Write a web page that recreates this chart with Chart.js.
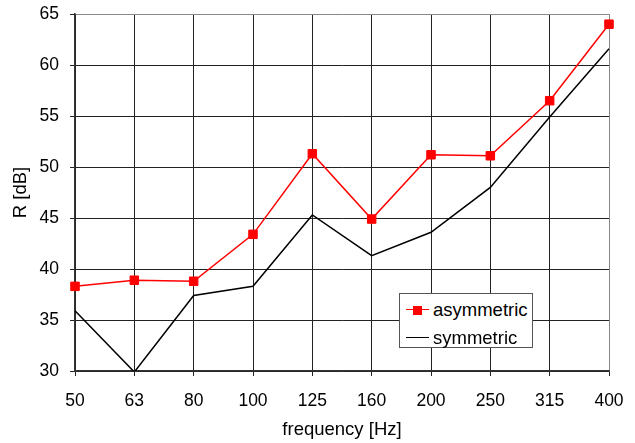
<!DOCTYPE html>
<html>
<head>
<meta charset="utf-8">
<script src="https://cdn.jsdelivr.net/npm/chart.js@4.4.1/dist/chart.umd.min.js"></script>
<style>
  html, body { margin: 0; padding: 0; background: #fff; }
  #wrap { position: relative; width: 635px; height: 443px; }
  #legend {
    position: absolute; left: 399px; top: 293px; width: 132px; height: 53px;
    border: 1px solid #555; background: #fff;
    font-family: "Liberation Sans", Arial, sans-serif; font-size: 18.5px; color: #000;
  }
  .item { position: absolute; left: 0; width: 100%; height: 22px; line-height: 22px; }
  .item .txt { position: absolute; left: 33px; top: 0; white-space: nowrap; }
  .item .ln { position: absolute; left: 6px; top: 10px; width: 23px; height: 0; }
  .item .sq { position: absolute; left: 13px; top: 7px; width: 9px; height: 9px; background: #f00; }
</style>
</head>
<body>
<div id="wrap">
  <canvas id="chart" width="635" height="443"></canvas>
  <div id="legend"></div>
</div>
<script>
const frequencies = ["50", "63", "80", "100", "125", "160", "200", "250", "315", "400"];
const asymmetric = [38.3, 38.9, 38.8, 43.4, 51.3, 44.9, 51.2, 51.1, 56.5, 64.0];
const symmetric = [35.9, 29.9, 37.4, 38.3, 45.3, 41.3, 43.6, 48.0, 54.9, 61.6];
const yTicks = [30, 35, 40, 45, 50, 55, 60, 65];

const tickFont = { family: "Liberation Sans, Arial, sans-serif", size: 17.5 };
const titleFont = { family: "Liberation Sans, Arial, sans-serif", size: 18.5 };

const chart = new Chart(document.getElementById("chart"), {
  type: "line",
  data: {
    labels: frequencies,
    datasets: [
      {
        label: "asymmetric",
        data: asymmetric,
        borderColor: "#ff0000",
        backgroundColor: "#ff0000",
        borderWidth: 1.5,
        pointStyle: "rect",
        pointRadius: 6,
        pointBorderWidth: 1,
        tension: 0,
      },
      {
        label: "symmetric",
        data: symmetric,
        borderColor: "#000000",
        borderWidth: 1.5,
        pointRadius: 0,
        tension: 0,
      },
    ],
  },
  options: {
    responsive: false,
    animation: false,
    layout: { padding: { top: 14, right: 26, left: 0, bottom: 0 } },
    plugins: { legend: { display: false }, tooltip: { enabled: false } },
    scales: {
      x: {
        offset: false,
        ticks: { color: "#000", font: tickFont, padding: 15, maxRotation: 0 },
        grid: {
          color: (ctx) => (ctx.index === frequencies.length - 1 ? "#888" : "#222"),
          lineWidth: 1,
          tickLength: 5,
          tickColor: "#222",
        },
        border: { color: "#333", width: 1.5 },
        title: { display: true, text: "frequency [Hz]", color: "#000", font: titleFont, padding: { top: 0, bottom: 2 } },
        afterFit: (scale) => {
          scale.height = 72;
          // edge label padding handled by layout.padding
          scale.paddingLeft = 0;
          scale.paddingRight = 0;
        },
      },
      y: {
        min: 30,
        max: 65,
        afterBuildTicks: (scale) => { scale.ticks = yTicks.map((v) => ({ value: v })); },
        ticks: { color: "#000", font: tickFont, padding: 11 },
        grid: {
          color: (ctx) => (ctx.tick && ctx.tick.value === 65 ? "#888" : "#222"),
          lineWidth: 1,
          tickLength: 5,
          tickColor: "#222",
        },
        border: { color: "#333", width: 1.5 },
        title: { display: true, text: "R [dB]", color: "#000", font: titleFont, padding: { top: 10, bottom: 0 } },
        afterFit: (scale) => {
          scale.width = 75;
          scale.paddingTop = 0;
          scale.paddingBottom = 0;
        },
      },
    },
  },
});

// legend sits inside the plot, lower right
const legend = document.getElementById("legend");
chart.data.datasets.forEach((ds, i) => {
  const item = document.createElement("div");
  item.className = "item";
  item.style.top = (5 + i * 28) + "px";
  const ln = document.createElement("div");
  ln.className = "ln";
  ln.style.borderTop = "1.5px solid " + ds.borderColor;
  item.appendChild(ln);
  if (ds.pointRadius > 0) {
    const sq = document.createElement("div");
    sq.className = "sq";
    item.appendChild(sq);
  }
  const txt = document.createElement("span");
  txt.className = "txt";
  txt.textContent = ds.label;
  item.appendChild(txt);
  legend.appendChild(item);
});
</script>
</body>
</html>
